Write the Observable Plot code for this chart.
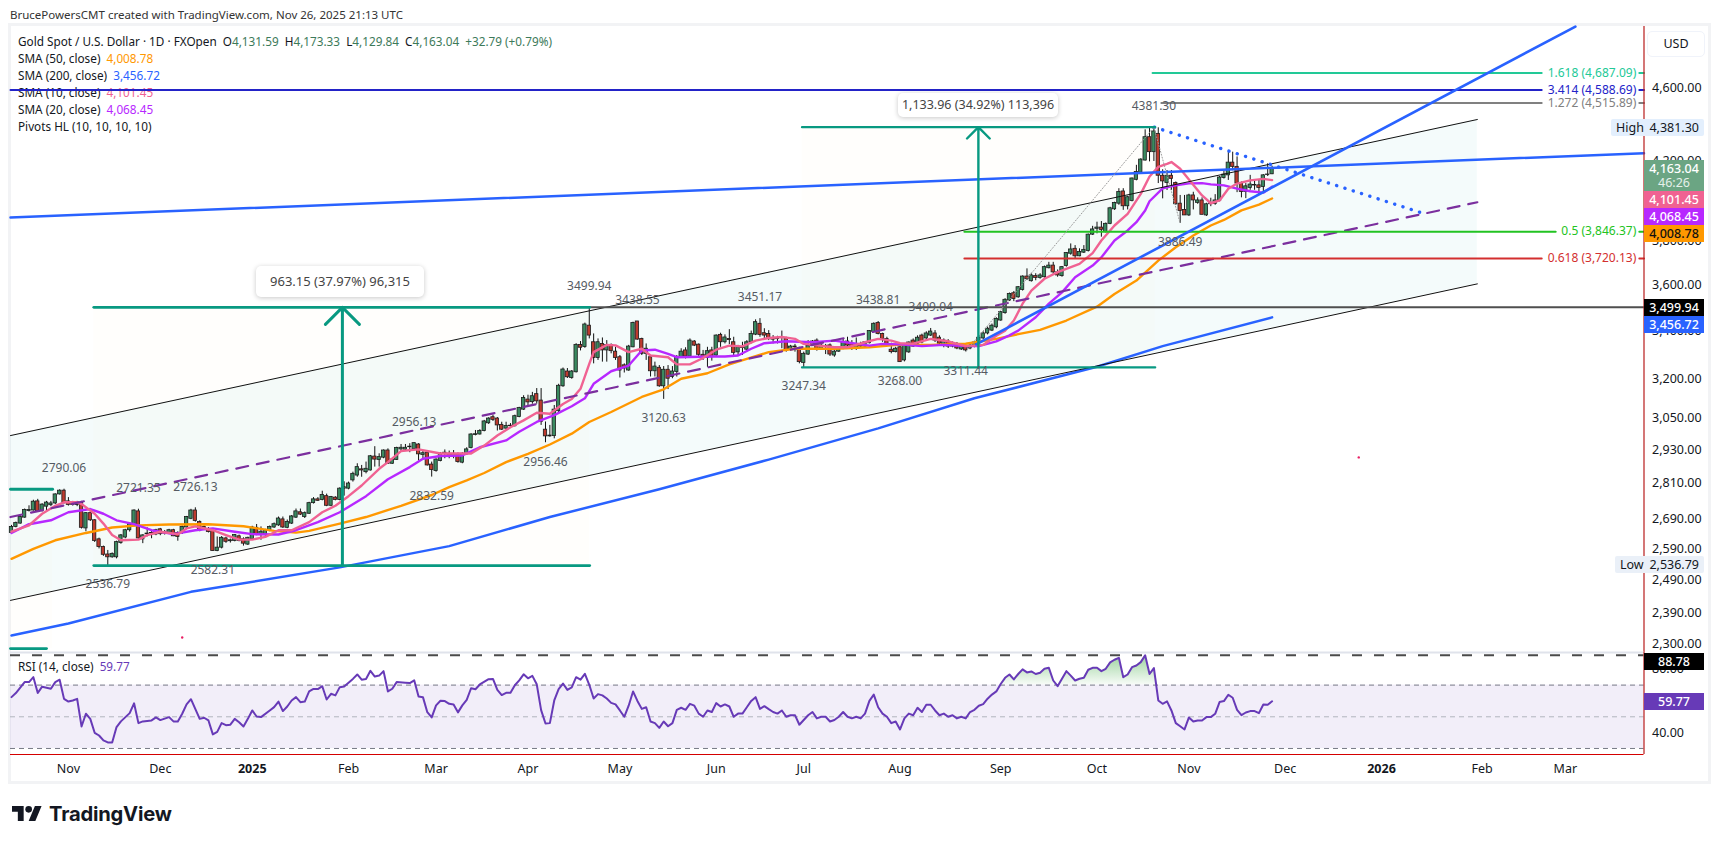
<!DOCTYPE html>
<html><head><meta charset="utf-8">
<script src="https://cdn.jsdelivr.net/npm/d3@7"></script>
<script src="https://cdn.jsdelivr.net/npm/@observablehq/plot@0.6"></script>
<style>
html,body{margin:0;padding:0;background:#fff;width:1719px;height:842px;overflow:hidden;font-family:"Noto Sans",sans-serif;color:#131722}
#root{position:relative;width:1719px;height:842px;overflow:hidden}
#frame{position:absolute;left:9px;top:24px;width:1697px;height:755px;border:3px solid #f2f3f5;box-sizing:content-box;margin:-1px 0 0 -1px}
.abs{position:absolute;white-space:nowrap}
.leg{font-size:11.75px;line-height:17px;left:18px}
.tag{left:1644px;width:60px;text-align:center;font-size:12.5px;line-height:17px;height:17px;font-weight:500}
.pill{background:#fff;border-radius:5px;box-shadow:0 1px 5px rgba(0,0,0,.22);text-align:center;font-size:13px;color:#444}
</style></head><body><div id="root"><div id="frame"></div></div>
<script>
// ---------- candles (bar index 0 … 288, last bar = Nov 26 2025) ----------
const opens=[2642,2662,2673,2693,2715,2717,2748,2715,2730,2735,
2741,2772,2785,2748,2741,2736,2743,2657,2708,2684,
2621,2596,2572,2563,2563,2609,2627,2651,2667,2714,
2621,2640,2642,2637,2654,2640,2642,2651,2642,2642,
2660,2689,2717,2678,2662,2654,2649,2583,2594,2624,
2615,2616,2631,2621,2604,2621,2659,2638,2637,2649,
2660,2667,2687,2659,2673,2693,2711,2695,2706,2742,
2755,2753,2766,2733,2761,2753,2792,2792,2821,2838,
2860,2850,2856,2906,2894,2902,2928,2880,2894,2932,
2931,2940,2933,2950,2912,2920,2877,2854,2890,2915,
2916,2907,2914,2884,2914,2937,2985,2987,3000,3029,
3052,3047,3023,3009,3018,3018,3053,3081,3120,3110,
3141,3116,3005,2980,2981,3075,3172,3231,3205,3228,
3340,3331,3421,3351,3286,3344,3317,3340,3312,3289,
3256,3235,3330,3439,3365,3303,3289,3232,3246,3172,
3238,3209,3229,3289,3317,3292,3354,3341,3299,3286,
3317,3296,3382,3351,3365,3351,3309,3330,3320,3351,
3383,3429,3389,3386,3368,3364,3373,3365,3320,3333,
3327,3266,3300,3336,3358,3324,3336,3338,3296,3312,
3324,3354,3344,3324,3344,3333,3347,3394,3432,3386,
3365,3320,3310,3330,3276,3309,3358,3345,3379,3367,
3379,3388,3370,3337,3354,3333,3341,3321,3333,3325,
3333,3350,3367,3388,3400,3414,3443,3475,3530,3562,
3544,3577,3637,3616,3639,3631,3634,3675,3687,3656,
3639,3685,3742,3765,3730,3747,3755,3832,3860,3866,
3844,3884,3955,3983,4044,3970,3996,4103,4140,4203,
4327,4247,4345,4124,4087,4124,4087,3983,3952,3925,
4024,3987,3999,3925,3985,3982,3997,4113,4126,4192,
4170,4084,4041,4062,4077,4075,4067,4128,4131.59];
const highs=[2667,2678,2700,2722,2733,2752,2755,2740,2748,2748,
2774,2788,2790.06,2761,2748,2748,2748,2710,2712,2686,
2625,2599,2585,2577,2615,2637,2654,2675,2719,2721.35,
2636,2659,2651,2654,2657,2650,2654,2654,2646,2665,
2697,2721,2726.13,2682,2665,2660,2655,2629,2630,2628,
2622,2637,2635,2626,2628,2664,2670,2662,2654,2665,
2675,2695,2695,2685,2700,2722,2722,2712,2745,2761,
2761,2783,2773,2765,2764,2795,2816,2815,2850,2880,
2874,2886,2910,2942,2916,2930,2934,2898,2940,2950,
2950,2953,2956.13,2953,2928,2924,2886,2898,2920,2930,
2926,2928,2919,2920,2938,2990,3002,3005,3040,3050,
3060,3051,3033,3033,3028,3060,3090,3135,3137,3148,
3163,3163,3034,3021,3097,3180,3245,3243,3235,3345,
3354,3432,3499.94,3386,3365,3369,3358,3344,3330,3296,
3262,3338,3436,3438.55,3368,3344,3292,3269,3255,3251,
3255,3251,3296,3324,3328,3365,3358,3344,3317,3330,
3330,3382,3389,3382,3404,3372,3338,3351,3358,3398,
3446,3451.17,3408,3400,3379,3376,3398,3372,3338,3342,
3330,3310,3358,3358,3365,3344,3342,3344,3320,3330,
3365,3372,3358,3369,3351,3354,3400,3433,3438.81,3389,
3372,3347,3330,3333,3342,3352,3365,3378,3385,3395,
3409.04,3400,3378,3365,3362,3352,3350,3345,3340,3342,
3355,3378,3395,3415,3428,3455,3482,3538,3563,3570,
3592,3640,3672,3652,3650,3650,3685,3702,3702,3667,
3683,3747,3788,3780,3765,3780,3835,3872,3892,3895,
3888,3965,3990,4058,4058,4020,4112,4178,4212,4367,
4375,4381.30,4378,4155,4151,4151,4092,4024,4024,4030,
4040,4012,4012,3985,4010,4028,4120,4150,4247,4247,
4222,4092,4084,4126,4100,4100,4130,4186,4173.33];
const lows=[2638,2659,2671,2691,2712,2715,2712,2712,2717,2730,
2737,2770,2739,2732,2732,2730,2655,2646,2680,2611,
2590,2566,2536.79,2560,2558,2605,2623,2645,2662,2620,
2607,2629,2623,2633,2633,2635,2637,2630,2615,2637,
2657,2686,2678,2646,2650,2642,2582.31,2581,2590,2608,
2609,2613,2613,2599,2601,2618,2633,2618,2629,2646,
2657,2664,2657,2656,2670,2690,2700,2690,2704,2739,
2748,2750,2730,2730,2750,2750,2766,2788,2815,2832,
2832,2844,2854,2868,2868,2898,2878,2878,2892,2924,
2925,2920,2928,2890,2894,2872,2832.59,2850,2887,2898,
2898,2898,2882,2880,2910,2934,2982,2985,2997,3025,
3036,3000,3002,3005,3010,3015,3050,3078,3095,3102,
3102,3021,2956.46,2977,2971,3070,3168,3203,3200,3225,
3315,3326,3365,3262,3276,3269,3269,3303,3276,3205,
3225,3232,3328,3360,3296,3276,3209,3209,3168,3120.63,
3159,3202,3209,3286,3282,3289,3333,3289,3276,3248,
3273,3292,3330,3344,3341,3296,3296,3296,3310,3344,
3379,3372,3365,3358,3344,3344,3324,3310,3314,3310,
3262,3247.34,3296,3333,3314,3320,3300,3292,3289,3309,
3320,3327,3317,3317,3330,3330,3344,3392,3382,3351,
3338,3303,3307,3268,3270,3305,3330,3340,3345,3362,
3375,3350,3340,3328,3325,3328,3320,3317,3311.44,3320,
3328,3345,3362,3382,3396,3408,3440,3470,3526,3525,
3540,3572,3619,3612,3618,3625,3630,3672,3648,3634,
3634,3680,3735,3717,3728,3743,3750,3828,3836,3820,
3840,3880,3950,3975,3950,3952,3992,4098,4135,4200,
4196,4198,4084,4007,4049,4049,3975,3886.49,3925,3920,
3952,3980,3928,3920,3968,3975,3992,4107,4100,4150,
4038,4012,4008,4050,4050,4024,4038,4120,4129.84];
const closes=[2662,2675,2695,2719,2719,2747,2714,2737,2744,2741,
2772,2785,2742,2736,2736,2745,2659,2708,2684,2616,
2596,2571,2563,2574,2612,2634,2651,2671,2717,2624,
2634,2638,2640,2651,2638,2645,2651,2631,2629,2662,
2695,2717,2682,2649,2654,2645,2583,2594,2626,2613,
2618,2635,2616,2607,2626,2660,2638,2646,2651,2662,
2671,2690,2660,2678,2697,2714,2703,2708,2742,2755,
2750,2770,2733,2763,2753,2792,2797,2810,2844,2868,
2856,2862,2907,2895,2904,2928,2880,2895,2937,2938,
2938,2942,2955,2914,2918,2874,2858,2895,2916,2920,
2909,2916,2886,2916,2932,2987,2988,3000,3036,3047,
3042,3021,3005,3019,3020,3056,3087,3126,3109,3133,
3113,3034,2980,2983,3081,3174,3239,3208,3231,3340,
3328,3426,3379,3286,3351,3317,3340,3314,3286,3235,
3243,3333,3432,3362,3303,3324,3232,3251,3172,3238,
3202,3231,3289,3312,3292,3358,3337,3299,3286,3314,
3289,3379,3351,3371,3360,3307,3330,3327,3351,3386,
3436,3382,3379,3365,3362,3369,3369,3317,3333,3330,
3269,3303,3336,3354,3320,3337,3333,3300,3312,3326,
3351,3337,3324,3344,3333,3351,3398,3429,3386,3365,
3344,3310,3324,3269,3337,3350,3333,3370,3350,3388,
3396,3358,3345,3358,3333,3345,3325,3337,3317,3337,
3350,3370,3388,3408,3421,3450,3479,3533,3559,3537,
3589,3637,3625,3642,3631,3642,3680,3687,3656,3642,
3680,3745,3762,3730,3750,3760,3832,3857,3866,3855,
3884,3960,3986,4041,3970,4015,4110,4143,4208,4327,
4247,4358,4124,4095,4124,4108,3980,3947,3925,4024,
3999,3999,3928,3980,3980,3999,4115,4130,4192,4170,
4084,4041,4070,4079,4074,4062,4126,4130.25,4163.04];

// ---------- moving averages: [bar, value] ----------
const sma10=[[0,2646],[4,2667],[7,2706],[10,2733],[12,2745],[15,2745],[16,2739],[19,2706],[21,2673],[23,2635],[25,2618],[29,2620],[31,2635],[34,2646],[38,2638],[40,2657],[42,2664],[46,2651],[49,2635],[52,2620],[55,2620],[58,2629],[61,2651],[64,2651],[68,2678],[71,2711],[74,2733],[77,2766],[80,2803],[84,2862],[86,2886],[89,2926],[93,2932],[98,2917],[102,2917],[105,2917],[108,2946],[111,2983],[114,3014],[117,3040],[120,3069],[123,3065],[126,3103],[128,3122],[130,3162],[132,3262],[133,3310],[136,3340],[138,3338],[141,3310],[144,3324],[146,3296],[150,3289],[152,3260],[155,3260],[158,3286],[161,3320],[164,3337],[167,3334],[170,3358],[173,3369],[176,3373],[179,3365],[181,3344],[184,3338],[188,3330],[191,3330],[195,3351],[198,3365],[201,3358],[203,3347],[206,3345],[210,3365],[214,3355],[218,3335],[222,3340],[225,3378],[227,3400],[229,3443],[231,3516],[233,3574],[236,3627],[239,3657],[244,3695],[247,3745],[249,3804],[252,3876],[255,3933],[258,4032],[260,4120],[262,4170],[264,4185],[265,4195],[267,4160],[269,4105],[272,4024],[274,3985],[276,3999],[278,4058],[280,4084],[283,4100],[286,4108],[288,4101.45]];
const sma20=[[0,2642],[4,2671],[9,2684],[13,2711],[18,2722],[21,2706],[24,2684],[28,2671],[32,2651],[37,2638],[42,2651],[46,2657],[51,2646],[55,2638],[61,2637],[65,2651],[70,2678],[75,2711],[81,2766],[86,2825],[91,2868],[94,2898],[98,2908],[103,2910],[107,2940],[113,2965],[116,2997],[120,3034],[124,3060],[128,3094],[131,3125],[133,3182],[137,3232],[141,3255],[144,3317],[147,3320],[150,3303],[152,3289],[160,3292],[163,3292],[166,3296],[169,3324],[172,3347],[177,3355],[183,3351],[188,3358],[193,3345],[196,3337],[199,3344],[203,3342],[208,3335],[213,3340],[218,3335],[221,3335],[225,3355],[228,3380],[230,3400],[234,3457],[237,3516],[240,3566],[243,3634],[247,3687],[249,3725],[252,3804],[255,3852],[257,3892],[259,3949],[260,3995],[263,4060],[266,4075],[269,4085],[272,4086],[274,4080],[277,4075],[280,4058],[283,4045],[286,4038],[288,4068.45]];
const sma50=[[0,2558],[5,2590],[10,2618],[17,2642],[23,2660],[29,2667],[36,2670],[45,2671],[53,2664],[60,2649],[65,2643],[68,2649],[75,2673],[81,2695],[89,2733],[96,2770],[100,2797],[104,2821],[108,2847],[113,2886],[118,2916],[123,2950],[128,2990],[132,3034],[137,3072],[144,3130],[149,3160],[153,3202],[159,3224],[164,3260],[168,3282],[173,3310],[179,3324],[188,3324],[196,3330],[203,3341],[210,3340],[218,3345],[225,3365],[230,3385],[235,3403],[241,3443],[248,3503],[252,3559],[257,3619],[262,3710],[266,3772],[270,3828],[274,3876],[277,3903],[281,3950],[285,3978],[288,4008.78]];
const sma200=[[0,2325],[13,2360],[41,2455],[75,2531],[100,2599],[123,2695],[148,2790],[173,2895],[198,3010],[220,3125],[248,3250],[263,3335],[288,3456.72]];
const rsi14=[[0,62.4],[1,65],[3,71.9],[4,71.9],[5,75],[6,65],[7,69],[9,67.7],[10,71.9],[11,73.4],[12,61.3],[13,59.6],[14,60.3],[15,61.3],[16,43.9],[17,51.9],[18,48.7],[19,39.9],[20,38.2],[21,35.1],[22,33.8],[23,33.8],[24,43.5],[25,47.1],[27,52.3],[28,58.5],[29,46],[30,47.1],[32,47.7],[33,49.6],[34,47.9],[36,49.8],[37,47.1],[38,47.1],[39,51.9],[40,57.8],[41,61.1],[43,48.7],[44,49.4],[45,47.7],[46,38.9],[47,40.5],[48,46],[49,44.7],[50,45],[51,48.7],[52,46.6],[53,43.9],[54,48.7],[55,54],[56,50.2],[57,49.8],[59,54],[60,56.1],[61,59.6],[62,53.6],[63,56.5],[64,60.3],[65,62.4],[66,59.2],[67,59.6],[68,66],[69,67.6],[70,67.5],[71,69.3],[72,60.9],[73,64.5],[74,63.5],[75,68.7],[76,69.1],[78,73.9],[79,76.7],[80,73.4],[81,73.8],[82,79],[83,75.4],[84,76],[85,78.8],[86,66],[87,67.7],[88,71.9],[90,71.5],[91,71.3],[92,73],[93,62.8],[94,62.4],[95,52.9],[96,49.6],[97,57.2],[98,60.1],[99,59.9],[100,58.2],[101,57.8],[102,52.8],[103,57.2],[104,60.7],[105,68],[106,67.4],[107,70.4],[109,73.7],[110,73.9],[111,67],[112,63.7],[113,65.1],[114,65.1],[115,69.9],[116,73],[117,76.8],[118,74.3],[119,75.8],[120,70.5],[121,54.2],[122,45.8],[123,46],[124,60.3],[125,67.5],[126,71],[127,67],[128,68.5],[129,75],[130,73.4],[131,77.1],[132,70.2],[133,61.5],[134,64.3],[135,63.5],[136,61.5],[137,58.8],[138,57.8],[139,54],[140,50],[141,57],[142,66],[143,60],[144,55],[145,56],[146,47],[147,46],[148,43],[149,47],[150,44],[151,46],[152,54.4],[153,55.7],[154,54.4],[155,58.2],[156,57],[157,52],[158,50],[159,54],[160,53],[161,58.6],[162,56.5],[163,57.8],[164,56.5],[165,50],[166,52],[167,52],[168,56],[169,60],[170,62.4],[171,55],[172,56.7],[173,54.8],[174,53],[175,52],[176,54],[177,50],[178,51],[179,51],[180,45],[181,48],[182,51],[183,53],[184,49],[185,50],[186,50],[187,47],[188,48],[189,50],[190,53],[191,50],[192,49],[193,50],[194,49],[195,52],[196,60],[197,64],[198,56],[199,52],[200,50],[201,46],[202,47],[203,42],[204,49],[205,52],[206,51],[207,55.7],[208,53],[209,57.6],[210,57.6],[211,54],[212,51],[213,52],[214,50],[215,51],[216,49],[217,50],[218,49],[219,53],[220,54.4],[221,57],[222,58],[223,61.4],[224,64],[225,66],[226,70.7],[227,74.6],[228,76.7],[229,73.6],[230,77],[231,79.9],[232,78],[233,78.6],[234,77],[235,77.8],[236,80.3],[237,80.9],[238,72.9],[239,69.3],[240,74],[241,78.8],[242,76],[243,72.9],[244,74],[245,74.6],[246,79.7],[247,80.9],[248,81],[249,78.8],[250,80.3],[251,84.3],[252,86],[253,87.2],[254,75],[255,76.7],[256,81.3],[257,82.4],[258,84.5],[259,88.78],[260,77],[261,80.7],[262,60.3],[263,58.2],[264,59.7],[265,54],[266,46],[267,44],[268,42],[269,49.6],[270,47],[271,47.7],[272,47.7],[273,49.8],[274,49.8],[275,51.9],[276,59.3],[277,59.9],[278,63.9],[279,62],[280,54.4],[281,51],[282,52.7],[283,53.6],[284,53.6],[285,52.3],[286,57.8],[287,57.6],[288,59.77]];

// ---------- pivots: [bar, price] ----------
const pivotHighs=[[12,2790.06],[29,2721.35],[42,2726.13],[92,2956.13],[132,3499.94],[143,3438.55],[171,3451.17],[198,3438.81],[210,3409.04],[261,4381.30]];
const pivotLows=[[22,2536.79],[46,2582.31],[96,2832.59],[122,2956.46],[149,3120.63],[181,3247.34],[203,3268.00],[218,3311.44],[267,3886.49]];

// ---------- axes ----------
const priceTicks=[4600,4400,4200,3800,3600,3400,3200,3050,2930,2810,2690,2590,2490,2390,2300];
const rsiTicks=[80,40];
const monthBars=[13,34,77,97,118,139,161,181,203,226,248,269,291,336,355];
const monthNames=["Nov","Dec","Feb","Mar","Apr","May","Jun","Jul","Aug","Sep","Oct","Nov","Dec","Feb","Mar"];
const yearBars=[55,313];
const yearNames=["2025","2026"];

// ---------- drawings ----------
const xMin=-0.228, xMax=372.97;
const channelBars=[xMin,334.9];
const channelUpper=[2983,4423.6];
const channelMedian=[2695,3990];
const channelLower=[2429,3604];
const fibs=[
 {name:"1.618 (4,687.09)",price:4687.09,from:260.7,to:349.6,color:"#22c997"},
 {name:"3.414 (4,588.69)",price:4588.69,from:xMin,to:349.6,color:"#2323c8"},
 {name:"1.272 (4,515.89)",price:4515.89,from:262.7,to:349.6,color:"#808080"},
 {name:"0.5 (3,846.37)",price:3846.37,from:217.7,to:352.8,color:"#22c322"},
 {name:"0.618 (3,720.13)",price:3720.13,from:217.7,to:349.6,color:"#d32f2f"}];
const teal="#089981", blue="#2962ff";

const bars=opens.map((o,i)=>({i,o,h:highs[i],l:lows[i],c:closes[i]}));
const pts=a=>a.map(([x,y])=>({x,y}));
const seg=(x1,y1,x2,y2)=>[{x:x1,y:y1},{x:x2,y:y2}];
const font='"Noto Sans",sans-serif';
const baseStyle={background:"transparent",maxWidth:"none",fontFamily:font,fontSize:"12px",overflow:"visible"};
const line=(d,o)=>Plot.line(d,{x:"x",y:"y",curve:"linear",...o});

const main=Plot.plot({
 width:1719,height:626,marginLeft:10,marginRight:75.5,marginTop:0,marginBottom:0,
 style:baseStyle,
 x:{type:"linear",domain:[xMin,xMax],axis:null},
 y:{type:"log",domain:[2276.2,4967.3],axis:null},
 marks:[
  // price ranges
  Plot.rect([{x1:18.8,x2:132.1,y1:2536.79,y2:3499.94},{x1:xMin,x2:9.4,y1:2287.5,y2:2790},{x1:180.6,x2:261.3,y1:3247.34,y2:4381.3}],
    {x1:"x1",x2:"x2",y1:"y1",y2:"y2",fill:"#ff9800",fillOpacity:.012}),
  // channel
  Plot.areaY([0,1],{x:k=>channelBars[k],y1:k=>channelLower[k],y2:k=>channelUpper[k],fill:"#0097a7",fillOpacity:.045,curve:"linear"}),
  // candle wicks and bodies
  Plot.ruleX(bars,{x:"i",y1:"l",y2:"h",stroke:"#111",strokeWidth:1}),
  Plot.rect(bars,{x1:d=>d.i-.38,x2:d=>d.i+.38,y1:d=>Math.min(d.o,d.c),y2:d=>Math.max(d.o,d.c),fill:d=>d.c>=d.o?"#3a8a60":"#bd3a2e",stroke:"#1b1b1b",strokeWidth:.8}),
  // moving averages
  line(pts(sma50),{stroke:"#ff9800",strokeWidth:2.4}),
  line(pts(sma200),{stroke:blue,strokeWidth:2.5}),
  line(pts(sma20),{stroke:"#b728ff",strokeWidth:2.4}),
  line(pts(sma10),{stroke:"#f06292",strokeWidth:2.4}),
  // channel lines
  line(seg(channelBars[0],channelUpper[0],channelBars[1],channelUpper[1]),{stroke:"#111",strokeWidth:1}),
  line(seg(channelBars[0],channelLower[0],channelBars[1],channelLower[1]),{stroke:"#111",strokeWidth:1}),
  line(seg(channelBars[0],channelMedian[0],channelBars[1],channelMedian[1]),{stroke:"#7b2f9e",strokeWidth:2.2,strokeDasharray:"12,9"}),
  // horizontal levels
  line(seg(132.1,3499.94,xMax,3499.94),{stroke:"#4f4f4f",strokeWidth:2}),
  ...fibs.map(f=>line(seg(f.from,f.price,f.to,f.price),{stroke:f.color,strokeWidth:2})),
  ...fibs.map(f=>line(seg(371.9,f.price,xMax,f.price),{stroke:f.color,strokeWidth:2})),
  Plot.text(fibs,{x:371.2,y:"price",text:"name",fill:"color",textAnchor:"end",fontSize:12}),
  // trend lines
  line(seg(xMin,3915,xMax,4241.6),{stroke:blue,strokeWidth:2.5}),
  line(seg(220.4,3342,357.3,4967),{stroke:blue,strokeWidth:2.6}),
  line(seg(261.1,4381.3,321.7,3941),{stroke:blue,strokeWidth:3.4,strokeDasharray:"0.1,8.6",strokeLinecap:"round"}),
  // zigzag
  line([{x:218,y:3311.44},{x:261,y:4381.3},{x:267,y:3886.49}],{stroke:"#999",strokeWidth:1,strokeDasharray:"1,2"}),
  // range edges
  line(seg(18.8,3499.94,132.1,3499.94),{stroke:teal,strokeWidth:2.8}),
  line(seg(18.8,2536.79,132.1,2536.79),{stroke:teal,strokeWidth:2.8}),
  line(seg(xMin,2790,9.4,2790),{stroke:teal,strokeWidth:2.8}),
  line(seg(xMin,2287.5,8,2287.5),{stroke:teal,strokeWidth:2.8}),
  line(seg(180.6,4381.3,261.3,4381.3),{stroke:teal,strokeWidth:2.2}),
  line(seg(180.6,3247.34,261.3,3247.34),{stroke:teal,strokeWidth:2.2}),
  Plot.arrow([{x:75.6,a:2536.79,b:3499.94}],{x1:"x",x2:"x",y1:"a",y2:"b",stroke:teal,strokeWidth:3,headLength:12,headAngle:90}),
  Plot.arrow([{x:220.9,a:3247.34,b:4381.3}],{x1:"x",x2:"x",y1:"a",y2:"b",stroke:teal,strokeWidth:2.4,headLength:10,headAngle:90}),
  // pivots
  Plot.text(pivotHighs,{x:d=>d[0],y:d=>d[1],text:d=>d[1].toFixed(2),dy:-21,fill:"#555a63",fontSize:12}),
  Plot.text(pivotLows,{x:d=>d[0],y:d=>d[1],text:d=>d[1].toFixed(2),dy:19,fill:"#555a63",fontSize:12}),
  // stray dots
  Plot.dot([{x:307.8,y:2903},{x:39,y:2319}],{x:"x",y:"y",r:1.2,fill:"#e91e63"}),
  // right edge and price axis
  Plot.ruleX([xMax],{stroke:"#b71c1c",strokeWidth:1.2}),
  Plot.axisY(priceTicks,{anchor:"right",tickSize:0,tickPadding:8,tickFormat:d3.format(",.2f"),fill:"#131722",fontSize:12.5,label:null})
 ]});

const rsiDomain=[26.2,90.57];
const rsiData=pts(rsi14);
const rsiPlot=Plot.plot({
 width:1719,height:129,marginLeft:10,marginRight:75.5,marginTop:0,marginBottom:27,
 style:baseStyle,
 x:{type:"linear",domain:[xMin,xMax],axis:null},
 y:{domain:rsiDomain,axis:null},
 marks:[
  ()=>{const d=d3.create("svg:defs");const g=d.append("linearGradient").attr("id","obGrad").attr("x1",0).attr("x2",0).attr("y1",0).attr("y2",1);
       g.append("stop").attr("offset","0").attr("stop-color","#4caf50").attr("stop-opacity",.55);
       g.append("stop").attr("offset","1").attr("stop-color","#4caf50").attr("stop-opacity",.04);return d.node();},
  Plot.rect([{}],{x1:xMin,x2:xMax,y1:30,y2:70,fill:"#7e57c2",fillOpacity:.1}),
  Plot.ruleY([70,30],{x1:xMin,x2:xMax,stroke:"#787b86",strokeWidth:1,strokeDasharray:"5,4"}),
  Plot.ruleY([50],{x1:xMin,x2:xMax,stroke:"#b2b5be",strokeWidth:1,strokeDasharray:"5,4"}),
  Plot.areaY(rsiData.filter(d=>d.x>=226),{x:"x",y1:70,y2:d=>Math.max(d.y,70),fill:"url(#obGrad)",curve:"linear"}),
  Plot.ruleY([88.78],{x1:xMin,x2:xMax,stroke:"#4a4a4a",strokeWidth:2,strokeDasharray:"10,12"}),
  line(rsiData,{stroke:"#673ab7",strokeWidth:2}),
  Plot.ruleY([rsiDomain[1]],{x1:xMin,x2:xMax,stroke:"#e0e3eb",strokeWidth:2}),
  Plot.ruleY([rsiDomain[0]],{x1:xMin,x2:xMax,stroke:"#d40000",strokeWidth:1.2}),
  Plot.ruleX([xMax],{y1:rsiDomain[0],y2:rsiDomain[1],stroke:"#b71c1c",strokeWidth:1.2}),
  Plot.axisY(rsiTicks,{anchor:"right",tickSize:0,tickPadding:8,tickFormat:d3.format(",.2f"),fill:"#131722",fontSize:12.5,label:null}),
  Plot.axisX(monthBars,{anchor:"bottom",tickSize:0,tickPadding:10,tickFormat:d=>monthNames[monthBars.indexOf(d)],fill:"#131722",fontSize:12.5,label:null}),
  Plot.axisX(yearBars,{anchor:"bottom",tickSize:0,tickPadding:10,tickFormat:d=>yearNames[yearBars.indexOf(d)],fill:"#131722",fontSize:12.5,fontWeight:"bold",label:null})
 ]});

const root=document.getElementById("root");
const place=(node,left,top)=>{node.style.position="absolute";node.style.left=left+"px";node.style.top=top+"px";root.appendChild(node);};

// legend sits under the plots: the blue level line crosses it
const el=(cls,css,html)=>{const n=document.createElement("div");n.className="abs "+cls;n.style.cssText=css;n.innerHTML=html;root.appendChild(n);return n;};
el("","left:10px;top:7px;font-size:11.5px;color:#333","BrucePowersCMT created with TradingView.com, Nov 26, 2025 21:13 UTC");
const gv=s=>`<span style="color:#3d7a5a">${s}</span>`;
el("leg","top:33px",`Gold Spot / U.S. Dollar · 1D · FXOpen&nbsp; O${gv("4,131.59")}&nbsp; H${gv("4,173.33")}&nbsp; L${gv("4,129.84")}&nbsp; C${gv("4,163.04")}&nbsp; ${gv("+32.79 (+0.79%)")}`);
[["SMA (50, close)","4,008.78","#ff9800",50],["SMA (200, close)","3,456.72","#2962ff",67],["SMA (10, close)","4,101.45","#f06292",84],["SMA (20, close)","4,068.45","#b728ff",101]]
 .forEach(([a,b,c,t])=>el("leg",`top:${t}px`,`${a}&nbsp; <span style="color:${c}">${b}</span>`));
el("leg","top:118px","Pivots HL (10, 10, 10, 10)");

place(main,0,26);
place(rsiPlot,0,652);
el("leg","top:658px",`RSI (14, close)&nbsp; <span style="color:#673ab7">59.77</span>`);

// measure labels
el("pill","left:256px;top:266px;width:168px;height:31px;line-height:31px","963.15 (37.97%) 96,315");
el("pill","left:898px;top:93px;width:160px;height:24px;line-height:24px;font-size:12.5px","1,133.96 (34.92%) 113,396");

// price tags
const tag=(txt,top,bg,col)=>el("tag",`top:${top}px;background:${bg};color:${col}`,txt);
el("tag",`top:160px;height:31px;background:#6ba583;color:#fff`,`4,163.04<div style="font-weight:400;margin-top:-3px;color:#e6f0ea">46:26</div>`);
tag("4,101.45",191,"#f06292","#fff");
tag("4,068.45",208,"#b728ff","#fff");
tag("4,008.78",225,"#ff9800","#111");
tag("3,499.94",299,"#000","#fff");
tag("3,456.72",316,"#2962ff","#fff");
tag("88.78",653,"#000","#fff");
tag("59.77",693,"#673ab7","#fff");
el("abs","left:1611px;top:119px;width:93px;height:17px;background:#e3effd;border-radius:2px;font-size:12.5px;line-height:17px;display:flex;justify-content:space-between;padding:0 5px;box-sizing:border-box",`<span>High</span><span>4,381.30</span>`);
el("abs","left:1615px;top:556px;width:89px;height:17px;background:#eaf0f8;border-radius:2px;font-size:12.5px;line-height:17px;display:flex;justify-content:space-between;padding:0 5px;box-sizing:border-box",`<span>Low</span><span>2,536.79</span>`);
el("abs","left:1647px;top:31px;width:58px;height:26px;border:1px solid #f0f3fa;border-radius:5px;box-sizing:border-box;text-align:center;line-height:24px;font-size:12.5px;background:#fff","USD");

// logo
el("abs","left:12px;top:801px;display:flex;align-items:center;gap:7px",
 `<svg width="30" height="15" viewBox="0 4 36 18"><path fill="#131722" d="M14 22H7V11H0V4h14v18zM28 22h-8l7.5-18h8L28 22z"/><circle cx="20" cy="8" r="4" fill="#131722"/></svg><span style="font-family:Inter,sans-serif;font-weight:700;font-size:20.2px;color:#131722;letter-spacing:-.2px">TradingView</span>`);
</script></body></html>
